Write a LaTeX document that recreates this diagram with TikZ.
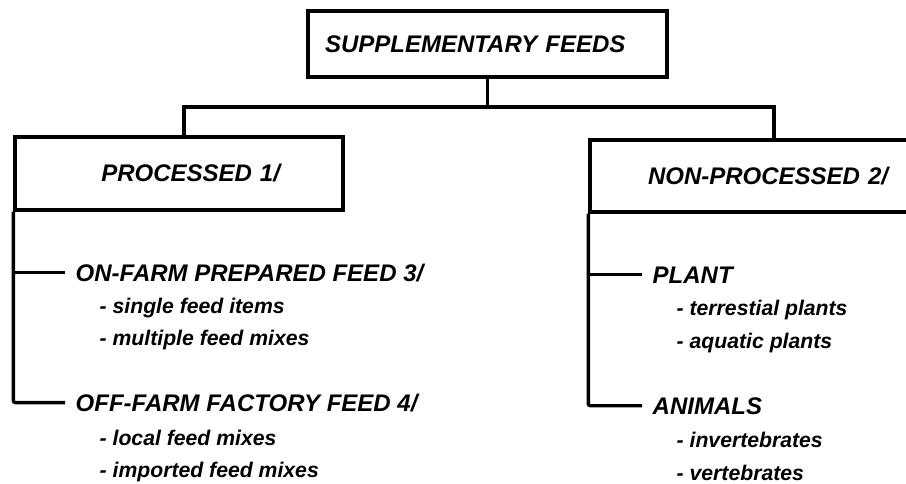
\documentclass[tikz,border=0pt]{standalone}
\usepackage{fontspec}
\setmainfont{Liberation Sans}
\usepackage{tikz}

\begin{document}
\begin{tikzpicture}[x=1pt, y=-1pt, line width=3.4pt,
    box/.style={draw, inner ysep=0pt, font=\fontsize{24}{28}\selectfont\bfseries\itshape},
    head/.style={anchor=base west, inner xsep=9pt, inner ysep=0pt, font=\fontsize{24}{28}\selectfont\bfseries\itshape},
    sub/.style={anchor=base west, inner sep=0pt, font=\fontsize{21.2}{25}\selectfont\bfseries\itshape}]
    % Frame
    \useasboundingbox (0,0) rectangle (906,483);
    \fill[white] (0,0) rectangle (906,483);
    \clip (0,0) rectangle (906,483);

    % Top box
    \node[box, minimum height=66pt, text width=325pt, inner xsep=17pt, align=left] (supp) at (487.5,44) {SUPPLEMENTARY FEEDS};

    % Second level boxes
    \node[box, minimum height=73pt, text width=202pt, inner xsep=63pt, align=right] (proc) at (179,173.5) {PROCESSED 1/};
    \node[box, minimum height=72pt, text width=252pt, inner xsep=58pt, align=left] (nonproc) at (774,176) {NON-PROCESSED 2/};

    % Connectors between boxes
    \coordinate (bus) at (487.5,107);
    \draw (supp) -- (bus);
    \draw ([xshift=5pt]proc.north) |- (bus) -| (nonproc.north);

    % Processed feeds
    \node[head] (onfarm) at (65,281) {ON-FARM PREPARED FEED 3/};
    \node[sub] (single) at (98,313) {- single feed items};
    \node[sub] (multiple) at (98,345) {- multiple feed mixes};
    \node[head] (offfarm) at (65,411) {OFF-FARM FACTORY FEED 4/};
    \node[sub] (local) at (98,445) {- local feed mixes};
    \node[sub] (imported) at (98,477) {- imported feed mixes};
    \draw (proc.south west) |- (onfarm.west);
    \draw[rounded corners=2pt] (proc.south west) |- (offfarm.west);

    % Non-processed feeds
    \node[head] (plant) at (642,283) {PLANT};
    \node[sub] (terr) at (675,315) {- terrestial plants};
    \node[sub] (aquatic) at (675,348) {- aquatic plants};
    \node[head] (animals) at (642,414) {ANIMALS};
    \node[sub] (invert) at (675,447) {- invertebrates};
    \node[sub] (vert) at (675,480) {- vertebrates};
    \draw (nonproc.south west) |- (plant.west);
    \draw[rounded corners=2pt] (nonproc.south west) |- (animals.west);
\end{tikzpicture}
\end{document}
